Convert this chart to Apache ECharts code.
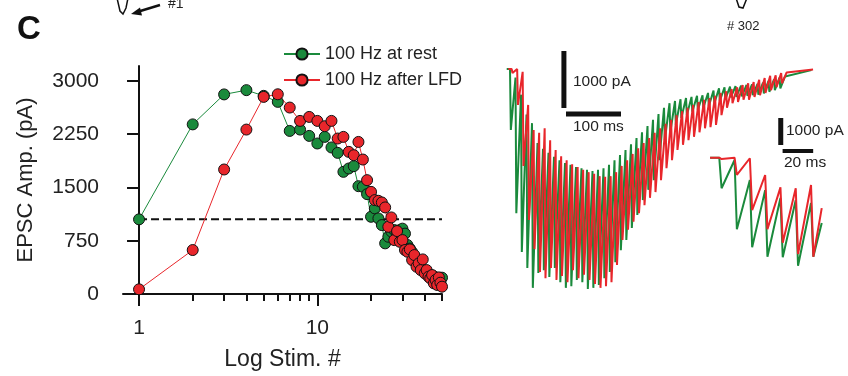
<!DOCTYPE html>
<html>
<head>
<meta charset="utf-8">
<script src="https://cdn.jsdelivr.net/npm/echarts@6/dist/echarts.min.js"></script>
<style>
  html, body { margin: 0; padding: 0; background: #fff; }
  #chart { width: 848px; height: 376px; }
</style>
</head>
<body>
<div id="chart"></div>
<script>
// stimulus numbers of the 100 Hz train
const stimNumbers = Array.from({ length: 50 }, (_, i) => i + 1);

// EPSC amplitude (pA) per stimulus
const ampAtRest = [
  1051, 2388, 2810, 2870, 2790, 2705, 2296, 2315, 2226, 2119,
  2212, 2063, 1987, 1720, 1767, 1800, 1518, 1509, 1406, 1087,
  1205, 1064, 970, 713, 806, 880, 900, 870, 900, 920,
  850, 690, 640, 590, 520, 470, 410, 380, 340, 300,
  290, 270, 260, 240, 250, 220, 200, 220, 190, 230
];
const ampAfterLFD = [
  66, 619, 1753, 2315, 2775, 2812, 2625, 2437, 2493, 2437,
  2362, 2437, 2189, 2212, 2001, 1954, 2141, 1893, 1603, 1438,
  1322, 1312, 1289, 1219, 946, 1078, 759, 886, 735, 759,
  619, 595, 628, 478, 548, 384, 431, 337, 487, 291,
  337, 243, 220, 267, 150, 197, 127, 234, 159, 103
];
const seriesNames = ['100 Hz at rest', '100 Hz after LFD'];

// log x axis ticks
const majorTicks = [1, 10];
const minorTicks = [2, 3, 4, 5, 6, 7, 8, 9, 20, 30, 40, 50];
const yTicks = [0, 750, 1500, 2250, 3000];

// whole train traces: current (pA) just before each stimulus and at each EPSC peak
const greenTops = [
  0, -150, -450, -800, -950, -1300, -1400, -1470, -1540, -1600,
  -1650, -1680, -1720, -1740, -1770, -1790, -1770, -1740, -1680, -1600,
  -1510, -1420, -1320, -1210, -1110, -1000, -890, -790, -680, -600,
  -560, -530, -510, -490, -470, -460, -420, -380, -340, -320,
  -310, -300, -290, -280, -270, -260, -240, -210, -180, -150
];
const greenTroughs = [
  -1070, -2530, -3210, -3490, -3840, -3580, -3530, -3650, -3490, -3740,
  -3840, -3810, -3700, -3740, -3860, -3840, -3790, -3670, -3560, -3390,
  -3180, -3000, -2790, -2560, -2300, -2120, -1950, -1600, -1250, -1110,
  -980, -860, -810, -750, -720, -680, -650, -600, -560, -530,
  -500, -490, -480, -470, -460, -450, -430, -400, -370, -340
];
const redTops = [
  0, 0, -50, -630, -1070, -1120, -1040, -1250, -1420, -1530,
  -1600, -1670, -1720, -1770, -1810, -1840, -1880, -1890, -1880, -1810,
  -1700, -1600, -1490, -1390, -1300, -1210, -1120, -1040, -960, -890,
  -810, -740, -680, -630, -580, -540, -510, -470, -420, -390,
  -350, -320, -280, -250, -230, -190, -160, -120, -110, -70
];
const redTroughs = [
  -70, -630, -1700, -2650, -3160, -3560, -3670, -3490, -3700, -3630,
  -3740, -3530, -3670, -3610, -3700, -3770, -3840, -3810, -3740, -3440,
  -3000, -2820, -2680, -2530, -2390, -2260, -2160, -1950, -1740, -1600,
  -1420, -1330, -1250, -1190, -1110, -1040, -1020, -980, -810, -680,
  -600, -580, -540, -540, -490, -460, -420, -370, -320, -250
];
const tailTimes = [500, 548];
const greenTail = [-130, -20];
const redTail = [-60, -10];

// inset: first 7 stimuli
const insetGreenTops = [0, -85, -830, -1200, -1490, -1570, -1680];
const insetGreenTroughs = [-1130, -2650, -3320, -3670, -3690, -4000, -3670];
const insetRedTops = [0, 0, -20, -640, -1100, -1130, -1010];
const insetRedTroughs = [-50, -640, -1940, -2650, -3150, -3570, -3670];
const insetTailTimes = [67];
const insetGreenTail = [-2420];
const insetRedTail = [-1870];

const STIM_INTERVAL = 10; // ms, 100 Hz
const PEAK_DELAY = 1.5;
const PRE_T = -6;
const RED_SHIFT = 3;

const GREEN = '#1a8a3c';
const RED = '#e8262b';
const FONT = '"Liberation Sans", Arial, sans-serif';
const lg = Math.log10;

function buildTrace(tops, troughs, shift, tT, tV) {
  const pts = [[PRE_T + shift, tops[0]]];
  tops.forEach((top, k) => {
    const t = k * STIM_INTERVAL + shift;
    pts.push([t, top]);
    pts.push([t + PEAK_DELAY, troughs[k]]);
  });
  tT.forEach((t, i) => pts.push([t + shift, tV[i]]));
  return pts;
}

function ampSeries(name, values, color) {
  return {
    name: name,
    type: 'line',
    xAxisIndex: 0, yAxisIndex: 0,
    data: values.map((v, i) => [lg(stimNumbers[i]), v]),
    symbol: 'circle',
    symbolSize: 11,
    lineStyle: { color: color, width: 1 },
    itemStyle: { color: color, borderColor: '#111', borderWidth: 1 },
    z: 3
  };
}

function traceSeries(data, color, xi, yi) {
  return {
    type: 'line', xAxisIndex: xi, yAxisIndex: yi,
    data: data, symbol: 'none', showSymbol: false,
    lineStyle: { color: color, width: 2 }
  };
}

function bar(data, xi, yi, w) {
  return {
    type: 'line', xAxisIndex: xi, yAxisIndex: yi,
    data: data, symbol: 'none',
    lineStyle: { color: '#111', width: w, cap: 'butt' }
  };
}

const xMin = lg(0.813);
const xMax = lg(50);
const axisCol = '#111';

const chart = echarts.init(document.getElementById('chart'));
chart.setOption({
  animation: false,
  textStyle: { fontFamily: FONT },
  grid: [
    { left: 123, top: 66, width: 319, height: 228 },
    { left: 505, top: 45, width: 310, height: 255 },
    { left: 700, top: 110, width: 130, height: 165 }
  ],
  legend: {
    data: seriesNames,
    orient: 'vertical',
    left: 278, top: 40,
    itemWidth: 36, itemHeight: 14, itemGap: 8,
    textStyle: { fontSize: 18, color: '#222', fontFamily: FONT }
  },
  xAxis: [
    {
      type: 'value', gridIndex: 0, min: xMin, max: xMax,
      name: 'Log Stim. #', nameLocation: 'middle', nameGap: 54,
      nameTextStyle: { fontSize: 23, color: '#222', fontFamily: FONT },
      axisLine: { lineStyle: { color: axisCol, width: 2 } },
      axisTick: { length: 7, lineStyle: { color: axisCol, width: 2 }, customValues: minorTicks.map(lg) },
      axisLabel: {
        customValues: majorTicks.map(lg), margin: 24,
        fontSize: 21, color: '#222', fontFamily: FONT,
        formatter: v => String(Math.round(Math.pow(10, v)))
      },
      splitLine: { show: false }
    },
    {
      type: 'value', gridIndex: 0, min: xMin, max: xMax, position: 'bottom',
      axisLine: { show: false },
      axisTick: { length: 12, lineStyle: { color: axisCol, width: 2 }, customValues: majorTicks.map(lg) },
      axisLabel: { show: false },
      splitLine: { show: false }
    },
    { type: 'value', gridIndex: 1, min: -9.1, max: 554.5, show: false },
    { type: 'value', gridIndex: 2, min: -12.6, max: 72.4, show: false }
  ],
  yAxis: [
    {
      type: 'value', gridIndex: 0, min: 0, max: 3210,
      name: 'EPSC Amp. (pA)', nameLocation: 'middle', nameGap: 86,
      nameTextStyle: { fontSize: 22, color: '#222', fontFamily: FONT },
      axisLine: { show: true, lineStyle: { color: axisCol, width: 2 } },
      axisTick: { show: true, length: 12, lineStyle: { color: axisCol, width: 2 }, customValues: yTicks },
      axisLabel: {
        customValues: yTicks, margin: 24, fontSize: 21, color: '#222', fontFamily: FONT,
        formatter: v => String(v)
      },
      splitLine: { show: false }
    },
    { type: 'value', gridIndex: 1, min: -4053, max: 421, show: false },
    { type: 'value', gridIndex: 2, min: -4345, max: 1767, show: false }
  ],
  series: [
    {
      type: 'line', xAxisIndex: 0, yAxisIndex: 0,
      data: [[lg(1), ampAtRest[0]], [lg(50), ampAtRest[0]]],
      symbol: 'none', z: 2,
      lineStyle: { color: '#111', width: 2, type: [8, 4] }
    },
    ampSeries(seriesNames[0], ampAtRest, GREEN),
    ampSeries(seriesNames[1], ampAfterLFD, RED),

    traceSeries(buildTrace(greenTops, greenTroughs, 0, tailTimes, greenTail), GREEN, 2, 1),
    traceSeries(buildTrace(redTops, redTroughs, RED_SHIFT, tailTimes, redTail), RED, 2, 1),
    bar([[98, 316], [98, -684]], 2, 1, 5),
    bar([[101.8, -790], [201.8, -790]], 2, 1, 5),

    traceSeries(buildTrace(insetGreenTops, insetGreenTroughs, 0, insetTailTimes, insetGreenTail), GREEN, 3, 2),
    traceSeries(buildTrace(insetRedTops, insetRedTroughs, 0, insetTailTimes, insetRedTail), RED, 3, 2),
    bar([[40.2, 1470], [40.2, 470]], 3, 2, 5),
    bar([[41.4, 248], [61.4, 248]], 3, 2, 4)
  ],
  graphic: [
    { type: 'text', x: 17, y: 30, style: { text: 'C', fontSize: 33, fontWeight: 'bold', fontFamily: FONT, fill: '#111', verticalAlign: 'middle' } },
    { type: 'text', x: 168, y: 4, style: { text: '#1', fontSize: 14, fontFamily: FONT, fill: '#222', verticalAlign: 'middle' } },
    { type: 'polyline', shape: { points: [[160, 5], [137, 12]] }, style: { stroke: '#111', lineWidth: 2.5 } },
    { type: 'polygon', shape: { points: [[131, 14], [140, 7.5], [142, 15.5]] }, style: { fill: '#111' } },
    { type: 'polyline', shape: { points: [[117, -2], [120, 11], [123, 14], [126, 8], [128, -2]] }, style: { stroke: '#111', lineWidth: 1.5, fill: null } },
    { type: 'text', x: 727, y: 26, style: { text: '# 302', fontSize: 13, fontFamily: FONT, fill: '#222', verticalAlign: 'middle' } },
    { type: 'polyline', shape: { points: [[736, -2], [739, 7], [743, 8], [747, -2]] }, style: { stroke: '#111', lineWidth: 1.5, fill: null } },
    { type: 'text', x: 573, y: 82, style: { text: '1000 pA', fontSize: 15.5, fontFamily: FONT, fill: '#222', verticalAlign: 'middle' } },
    { type: 'text', x: 573, y: 127, style: { text: '100 ms', fontSize: 15.5, fontFamily: FONT, fill: '#222', verticalAlign: 'middle' } },
    { type: 'text', x: 786, y: 131, style: { text: '1000 pA', fontSize: 15.5, fontFamily: FONT, fill: '#222', verticalAlign: 'middle' } },
    { type: 'text', x: 784, y: 163, style: { text: '20 ms', fontSize: 15.5, fontFamily: FONT, fill: '#222', verticalAlign: 'middle' } }
  ]
});
</script>
</body>
</html>
